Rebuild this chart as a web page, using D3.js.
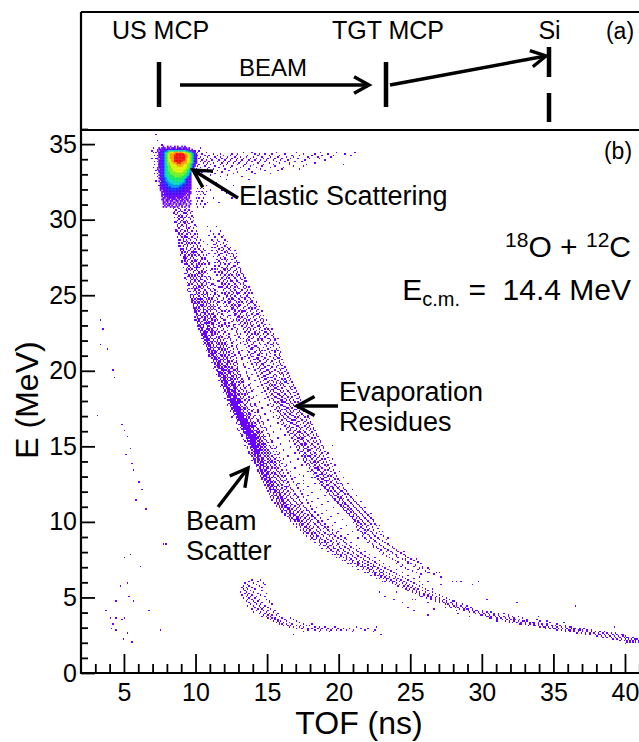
<!DOCTYPE html>
<html>
<head>
<meta charset="utf-8">
<script src="https://cdnjs.cloudflare.com/ajax/libs/d3/7.8.5/d3.min.js"></script>
<style>
    html, body { margin: 0; padding: 0; background: #fff; }
    svg { display: block; font-family: "Liberation Sans", Arial, sans-serif; }
    .axis path, .axis line { stroke: #000; }
    .axis text { font-family: "Liberation Sans", Arial, sans-serif; fill: #000; }
</style>
</head>
<body>
<svg id="chart" width="639" height="742"></svg>
<script>
// tick values
const xMajorTicks = [5, 10, 15, 20, 25, 30, 35, 40];
const yMajorTicks = [0, 5, 10, 15, 20, 25, 30, 35];
const xMinorTicks = [3, 4, 6, 7, 8, 9, 11, 12, 13, 14, 16, 17, 18, 19, 21, 22, 23, 24, 26, 27, 28, 29, 31, 32, 33, 34, 36, 37, 38, 39, 41];
const yMinorTicks = [1, 2, 3, 4, 6, 7, 8, 9, 11, 12, 13, 14, 16, 17, 18, 19, 21, 22, 23, 24, 26, 27, 28, 29, 31, 32, 33, 34, 36];

// elastic peak, one string per E bin (E x 10), one character per TOF bin from 7.2 ns, 0.1 ns wide
const elasticE = [348, 347, 346, 345, 344, 343, 342, 341, 340, 339, 338, 337, 336, 335, 334, 333, 332, 331, 330, 329, 328, 327, 326, 325, 324, 323, 322, 321, 320, 319, 318, 317, 316, 315, 314, 313, 312, 311, 310, 309, 308];
const elasticCounts = [
    "00000100101001010010100000000",
    "00101110110111011101110100000",
    "00111122222222222222111101000",
    "01012233455555555555544321100",
    "00112345678889999998877654210",
    "00112346789999aaaaaa998776421",
    "0011234678999aaaaaaaa99876421",
    "0011234678999aaaaaaaa99876411",
    "0101234678999aaaaaaaa98876421",
    "0011234678899aaaaaaaa98876421",
    "0011234578899aaaaaa9998876421",
    "001123457788999aaa99998776421",
    "0011234577888899999988776421",
    "0011234567788889999888776421",
    "001123456778888888888877642",
    "010123456777888888888776421",
    "00112345677788888888776541",
    "0011234566777788888777654",
    "0001234566777777777776543",
    "0011234566667777777766542",
    "0001234556666777776665431",
    "0011233455666666666654321",
    "0001233455566666665543211",
    "0010233445555566655543211",
    "0001123344555555555443211",
    "0001123334445555544332111",
    "0001122334444444443322111",
    "0001112233344444333222111",
    "0001112223333333332222111",
    "0001012222333333222221110",
    "0000111222223222222211111",
    "0000101122222222222111011",
    "0000111212221222121110110",
    "0000101111212111111101010",
    "0000011011111101111011010",
    "0000110111011110101101100",
    "0000010110110011011010101",
    "0000011010101101010110010",
    "0000010101101010110101001",
    "0000001011010010101001010",
    "0000010100101101001010010"
];
const levelColors = ["#6a00ff", "#4a08ff", "#1030ff", "#0090f0", "#00d8c0", "#10e860", "#70f020", "#e0f000", "#ff9a00", "#f01010"];

// scatter rows: first number is E x 10, the others are TOF x 10 of the filled bins
const tailAboveElastic = [
[356,72],[352,73],[349,76],[347,70,103],[346,73,75],[345,69,99,102],[344,70,72,74,101,107,133,139,156,170,187,198,211],[343,104,112,117,125,129,141,144,148,153,162,175,183,192,204],[342,71,73,101,106,109,115,119,124,128,136,143,151,158,167,172,181,188,196,208],
[341,100,103,108,113,117,122,127,131,135,140,146,152,157,163,168,178,185,194],[340,69,72,99,102,105,110,114,118,121,125,129,133,138,142,147,150,155,160,166,171,179,186],
[339,100,104,107,111,116,120,124,128,132,137,141,145,149,154,159,164,176,190],[338,71,73,99,103,106,109,115,119,123,127,131,136,139,144,148,156,162,169,174],
[337,100,105,108,112,118,122,126,130,135,143,151,158,165,183],[336,71,74,102,107,110,117,121,129,134,140,147,154,165,177,203],[335,101,106,113,119,125,133,138,146,155,168,175],
[334,70,73,103,109,116,124,131,142,152,161],[333,100,108,112,120,128,137,145,160,172],[332,72,74,102,107,115,123,135,148,157],[331,104,111,118,129,139],[330,71,73,103,113,126,141,152],[329,100,110,122],[328,73,75,105,117,132],[326,109,121,137],[325,72,76],[324,102,114],[322,74,76,107,126],[320,101,103,105],[319,75,77,110,118],[318,100,102,104,107],[317,105,121],[316,101,103,106],[314,100,102,105,112,125],[312,101,104],[311,108,116],[310,100,103,106],[308,101,105]
];
const beamScatter = [
[307,84,88,93],[306,86,89,92,95],[305,85,88,90,94,97],[304,87,91,93,96],[303,86,89,94],[302,88,90,93,97],[301,85,87,92,95],[300,88,91,96],[299,87,90,93,98],[298,86,89,94,97],[297,88,92,95],[296,87,90,93,99],[295,89,91,96],[294,88,93,95,98],[293,86,90,94],[292,89,92,97,100],[291,88,91,95],[290,90,93,96,99],[289,89,92,98],[288,90,94,97,101],[287,91,95,99],[286,89,93,96,100],[285,92,94,98],[284,90,95,97,102],[283,92,96,100],[282,91,94,98,103],[281,93,97,101],
[280,90,93,96,99,102],[279,91,95,98,103],[278,92,94,97,100,104],[277,90,93,96,101],[276,92,95,99,102,105],[275,91,94,97,100,103],[274,93,96,98,104],[273,92,95,99,101,106],[272,94,97,100,103],[271,93,96,98,102,105],
[270,94,97,100,104,106],[269,95,98,101,103],[268,94,96,99,102,107],[267,95,97,100,105],[266,96,99,101,104,107],[265,94,98,102,106],[264,96,100,103,105,108],[263,95,97,101,104],[262,97,99,102,106,109],[261,96,98,100,103,107],
[260,97,101,104,108,110],[259,96,99,102,106],[258,98,100,103,105,109],[257,97,101,104,107,111],[256,99,102,106,110],[255,98,100,103,105,108],[254,97,101,104,109,112],[253,99,102,106,110],[252,98,100,103,107,111],[251,100,102,105,108,113],
[250,99,101,104,106,110,113],[249,98,102,105,108,112],[248,100,103,106,109,114],[247,99,101,104,107,111,115],[246,100,103,105,110,113],[245,101,104,106,108,112,116],[244,99,102,105,109,114],[243,101,103,107,110,115],[242,100,104,106,111,113,117],[241,102,105,108,112,116],
[240,101,103,106,109,113,117],[239,102,105,107,110,114,118],[238,100,104,108,112,116],[237,103,106,109,111,115,118],[236,102,105,107,110,113,119],[235,101,104,108,112,117],[234,103,106,109,114,118],[233,102,105,108,111,115,120],[232,104,107,110,113,117],[231,103,106,109,112,116,120],
[230,104,107,111,114,118,120],[229,103,105,108,112,116,121],[228,105,108,110,113,117,122],[227,104,107,111,115,119],[226,106,109,112,114,118,122],[225,105,108,110,113,116,120],[224,104,107,111,115,119,123],[223,106,109,112,117,121],[222,105,108,110,114,118,123],[221,107,109,113,116,120,124],
[220,106,109,112,115,119,124],[219,107,110,113,117,121],[218,108,111,114,116,120,125],[217,107,110,112,115,118,122],[216,109,112,114,117,121,125],[215,108,111,115,119,123],[214,110,112,116,118,122,126],[213,109,113,115,120,124],[212,111,114,117,119,123,126],[211,110,113,116,121,125],
[210,111,114,117,120,123,127],[209,112,115,118,122,125],[208,113,116,119,121,124,128],[207,112,115,117,120,126],[206,114,116,119,122,125,128],[205,113,117,120,123,127],[204,115,118,121,124,126,129],[203,114,117,119,122,127],[202,115,118,120,123,125,129],[201,116,119,122,124,128],
[200,115,118,121,123,126,129],[199,117,119,122,125,128,130],[198,116,120,123,126,129],[197,118,121,124,127,130],[196,117,119,122,125,128,131],[195,118,121,123,126,130],[194,119,122,124,127,129,132],[193,118,120,123,126,131],[192,120,122,125,128,130,132],[191,119,121,124,127,131],
[190,120,123,125,127,130,133],[189,119,122,124,126,129,133],[188,121,123,126,128,131,134],[187,120,124,127,129,132],[186,122,125,127,130,133,135],[185,121,124,126,128,131,135],[184,123,125,127,129,132,136],[183,122,124,126,128,130,134],[182,123,126,128,131,133,137],[181,124,126,127,129,132,135],
[180,123,125,127,129,131,134,137],[179,124,126,128,130,132,136],[178,125,127,128,130,133,135,138],[177,124,126,129,131,134,138],[176,126,128,130,132,135,139],[175,125,127,129,131,133,136],[174,127,129,130,132,134,137,140],[173,126,128,131,133,136,139],[172,128,130,132,134,137,141],[171,127,129,131,133,135,138],
[170,129,131,132,134,136,138,141],[169,128,130,133,135,137,140],[168,130,132,134,135,137,139,142],[167,129,131,133,136,138,143],[166,131,133,135,136,138,140,143],[165,132,134,136,137,139,141,144],[164,131,133,135,137,139,142],[163,133,135,136,138,140,141,145],[162,134,136,137,139,140,142,146],[161,133,135,137,138,140,143],
[160,135,136,138,139,141,142,144,147],[159,134,136,137,139,140,142,143,146],[158,135,137,138,140,141,143,145],[157,136,138,139,141,142,144,147],[156,137,139,140,141,143,144,146,148],[155,136,138,140,142,143,145,147],[154,138,140,141,142,144,145,148],[153,137,139,141,143,144,146,149],[152,139,141,142,144,145,147,150],[151,138,140,143,144,146,148],
[150,140,141,143,144,145,147,149,151],[149,139,142,143,145,146,148,152],[148,140,142,144,145,147,149,153],[147,141,143,145,146,148,150],[146,140,142,144,147,149,151,154],[145,142,144,146,148,150,152],[144,141,143,147,149,151,155],[143,143,145,148,150,153],[142,142,146,149,151,154,156],[141,144,147,150,152,155],
[140,143,146,148,151,153,157],[139,145,147,150,152,155,158],[138,144,148,151,154,156],[137,146,149,152,155,158],[136,145,148,150,153,156,159],[135,147,150,153,155,157],[134,146,149,152,156,160],[133,148,151,154,157,159],[132,147,150,153,155,158,161],[131,149,152,156,159],
[130,148,151,154,157,160,162],[129,150,153,155,158,161],[128,149,152,156,159,163],[127,151,154,157,160,162],[126,150,153,155,158,161,164],[125,152,156,159,163],[124,151,154,157,160,165],[123,153,155,158,162,164],[122,152,156,160,163,166],[121,154,157,159,162,167],
[120,155,158,161,164,168],[119,154,157,160,163,166],[118,156,159,162,165,169],[117,155,158,161,164,168,170],[116,157,160,163,166,171],[115,156,159,162,167,170],[114,158,161,164,168,172],[113,160,163,165,169,173],[112,159,162,166,170,174],[111,161,164,167,171],
[110,160,163,166,169,172,175],[109,162,165,168,171,176],[108,164,167,170,173,177],[107,163,166,169,172,175,178],[106,165,168,171,174,179],[105,167,170,173,176,180],[104,166,169,172,175,178,181],[103,168,171,174,177,182],[102,170,173,176,179,183],[101,169,172,175,178,181,184],
[100,171,174,177,180,185],[99,173,176,179,182,186],[98,172,175,178,183,187],[97,174,177,180,184,188],[96,176,179,182,185,190],[95,175,178,181,186,191],[94,177,180,184,187,192],[93,179,182,185,189,193],[92,178,183,186,190,195],[91,181,184,188,192,196],
[90,182,185,189,193,197],[89,184,187,191,195,199],[88,183,188,192,196,201],[87,186,190,194,198,203],[86,188,192,196,200,204],[85,187,191,195,199,205],[84,190,194,198,202,207],[83,192,196,200,204,208],[82,191,197,201,206,210],[81,194,199,203,207,212],
[80,196,200,204,209,213],[79,198,202,206,210,215],[78,199,204,208,212,216],[77,201,205,209,213,218],[76,203,207,211,215,220],[75,205,208,212,217,221],[74,207,210,214,218,223],[73,209,213,216,220,225],[72,211,214,218,222,226],[71,213,216,220,224,228],
[70,215,218,222,225,230],[69,217,220,223,227,232],[68,219,222,226,229,234],[67,221,224,228,231,236],[66,223,226,230,233,238],[65,225,228,231,235,240],[64,227,230,233,237,242],[63,229,232,235,239,244],[62,231,234,238,241,246],[61,233,236,240,243,248],
[60,235,238,242,245,250],[59,237,240,244,247,252],[58,239,242,246,249,254],[57,241,245,248,251,256],[56,244,247,250,253,258],[55,246,249,252,255,260],[54,248,251,254,258,262],[53,251,254,256,260,265],[52,253,256,259,263,267],[51,256,259,262,265,270],
[50,258,262,264,268,272],[49,261,264,267,270,275],[48,264,267,270,273,277],[47,267,270,272,275,280],[46,270,273,275,278,282],[45,274,276,279,282,286],[44,277,280,282,285,289],[43,281,283,286,288,292],[42,284,287,290,293],[41,287,290,293,296,300],
[40,291,294,297,300,303],[39,295,298,301,304,308],[38,299,302,305,308,311],[37,303,306,309,312,315,318],[36,306,310,313,316,319,322],[35,310,314,317,320,323,326],[34,316,319,322,325,328,331],[33,321,324,327,330,333,336,339],[32,327,330,333,336,339,342,345],[31,332,336,339,342,345,348,351,354],
[30,340,343,346,349,352,355,358,361],[29,344,347,350,353,356,359,362,365,368],[28,352,355,358,361,364,367,370,373],[27,358,361,364,367,370,373,376,379,382],[26,366,369,372,375,378,381,384,387,390],[25,372,375,379,382,385,388,391,394,397],[24,380,383,386,389,392,395,398,400],[23,384,387,390,393,396,399,402,405],[22,391,394,397,400,402,404,406,408],[21,396,399,401,403,405,407,409,411],[20,401,403,405,407,409,411]
];
// second pass over the beam band, the uneven bins and the edges of the band
const beamScatterEdges = [
[304,84,85,92],[301,89,90,98],[298,85,91,92],[295,87,93,100],[292,86,87,94],[290,88,94,101],[288,87,92,93],[286,88,91,103],[284,88,93,99],[282,88,89,101],[280,89,91,105],[278,90,98,99],[276,89,97,107],[274,91,92,106],[272,90,92,99,108],[270,92,93,102,109],[268,91,100,101],[266,93,94,110],[264,92,93,102],[262,94,95,104],[260,93,99,103,112],[258,94,96,107],[256,94,95,104,113],[254,95,99,100],[252,95,96,105,115],[250,96,97,108,115],
[248,96,98,111],[247,97,102,103],[246,97,98,108,118],[245,97,102,110],[244,98,100,107,119],[243,98,104,105],[242,98,102,109,120],[241,99,100,110],[240,99,105,111,121],[239,99,100,108],[238,99,105,106,122],[237,100,101,112],[236,100,103,108,123],[235,99,106,110],[234,101,102,111,124],[233,100,106,113],[232,101,102,109,125],[231,101,107,111],[230,102,105,112,126],[229,101,102,109,123],[228,103,104,112,127],[227,102,108,109],[226,103,104,111,128],[225,103,107,111],
[224,105,106,113,129],[223,104,107,111],[222,106,107,116,130],[221,105,108,111],[220,107,108,117,128],[219,105,108,115],[218,106,109,118,131],[217,108,109,116],[216,107,110,119,128],[215,110,113,117],[214,108,109,120,129],[213,111,112,118],[212,109,113,121,130],[211,111,112,119],[210,109,112,118,131],[209,110,113,120],[208,111,114,122,132],[207,113,114,118],[206,112,117,123],[205,115,116,122],[204,113,116,122,133],[203,115,116,120],[202,113,116,121,134],[201,117,118,125],
[200,114,119,120,127],[199,115,116,123],[198,117,118,124,135],[197,116,119,122],[196,116,120,126,136],[195,119,120,124],[194,117,120,125,137],[193,119,121,124],[192,118,121,126,133],[191,120,122,125],[190,118,121,126,137],[189,120,121,127],[188,119,122,127,138],[187,122,123,125],[186,120,123,126,139],[185,122,123,127],[184,121,124,130,134],[183,123,125,127],[182,122,124,127,140],[181,125,128,130],[180,122,124,126,130],[179,125,127,129],[178,123,126,129,141],[177,125,127,128],[176,124,127,129,142],[175,126,128,130],[174,125,128,131,143],[173,127,129,130],[172,126,129,131,143],[171,128,130,132],[170,126,130,133,144],
[169,129,131,132],[168,128,131,133,145],[167,130,132,134],[166,129,132,134,146],[165,131,133,135],[164,130,132,134,147],[163,132,134,137],[162,131,133,135,148],[161,132,134,136],[160,130,133,137,149],[159,133,135,138],[158,131,134,136,150],[157,135,137,140],[156,132,135,138,151],[155,135,137,139],[154,133,136,139,152],[153,136,138,140],[152,135,138,140,153],[151,137,139,141],[150,134,139,142,154],[149,138,140,141],[148,136,138,141,155],[147,139,142,144],[146,137,141,143,156],[145,139,141,143],[144,138,140,145,157],[143,139,141,144],[142,140,143,147,158],[141,141,143,146],[140,139,141,144,159],
[139,141,143,146],[138,141,145,147,160],[137,143,145,147],[136,142,144,147,162],[135,144,145,149],[134,143,145,148,163],[133,145,146,150],[132,144,146,149,164],[131,146,148,150],[130,145,147,149,166],[129,147,149,151],[128,146,148,151,167],[127,148,150,152],[126,147,149,152,168],[125,149,151,154],[124,148,150,153,170],[123,150,152,156],[122,149,151,154,171],[121,151,153,155],[120,150,152,156,173],[119,152,155,158],[118,151,154,158,174],[117,153,156,159],[116,152,154,159,175],[115,154,157,160],[114,153,156,160,177],[113,156,158,161],[112,155,157,161,178],[111,157,160,163],[110,156,158,162,180],
[109,158,160,164],[108,159,161,165,181],[107,160,162,165],[106,160,163,166,183],[105,162,164,168],[104,162,165,168,185],[103,164,166,170],[102,165,167,171,187],[101,166,168,171],[100,166,169,172,188],[98,168,170,174,190],[96,170,173,177,192],[94,173,175,179,195],[92,175,177,181,198],[90,177,180,184,201],[88,180,182,186,205],[86,183,186,190,208],[84,186,189,193,212],[82,188,193,196,214],[80,192,195,198,218],[78,195,197,201,221],[76,198,200,205,225],[74,202,204,209,228],[72,206,208,213,231],[70,209,212,216,235],[68,213,216,221,240],[66,218,220,225,244],[64,222,225,229,248],[62,226,228,233,252],[60,230,232,237,256]
];
const evaporationResidues = [
[295,108,114],[292,110,117],[290,112,116],[288,113,118],[286,111,115,120],[284,114,119],[283,112,117,121],[282,115,120],[281,113,118,122],[280,116,119,123],[279,114,118,124],[278,115,120,122],[277,113,117,123,125],[276,116,121,126],[275,115,119,124],[274,117,120,127],[273,114,118,122,125],[272,116,121,128],[271,115,119,124,127],
[270,117,120,123,129],[269,116,122,126],[268,118,121,125,130],[267,115,119,124,128],[266,117,120,123,127,131],[265,116,122,126,129],[264,118,121,124,128,132],[263,117,120,125,130],[262,119,122,126,129,133],[261,118,123,127,131],
[260,117,120,124,128,132],[259,119,122,125,129,134],[258,118,121,126,130,133],[257,120,123,127,131],[256,119,122,125,128,134],[255,118,121,124,129,133,135],[254,120,123,126,130,134],[253,119,124,127,132,136],[252,121,125,128,131,135],[251,120,123,126,130,134,137],
[250,120,122,125,129,133,136],[249,122,124,127,131,135],[248,121,125,128,132,137],[247,123,126,130,134,138],[246,122,124,127,131,136,139],[245,124,128,132,135,139],[244,123,126,129,133,137,140],[243,125,127,131,136,141],[242,124,128,130,134,138,142],[241,126,129,133,137,141],
[240,125,127,131,135,139,143],[239,127,130,134,138,142],[238,126,129,132,136,140,144],[237,128,131,135,139,143],[236,127,130,133,137,141,145],[235,129,132,136,140,144],[234,128,131,134,138,142,146],[233,130,133,137,141,145],[232,129,132,135,139,143,147],[231,131,134,138,142,146],
[230,130,133,136,140,144,148],[229,132,135,139,143,147],[228,134,137,141,145,149],[227,133,136,140,144,148,150],[226,135,138,142,146,151],[225,134,137,141,144,149,152],[224,136,139,143,147,150],[223,135,138,142,145,149,153],[222,137,140,144,148,154],[221,136,139,143,146,150,155],
[210,136,138,143,144,149,155,158],[209,139,140,146,151,152,159],[208,137,142,143,148,154,157],[207,140,141,147,150,155,160],[206,138,144,145,149,153,158],[205,141,143,148,152,156,161],[204,139,142,146,147,154,159],[203,142,145,150,151,157,160],[202,140,144,148,153,156,162],[201,143,146,147,152,158,161],
[200,141,145,149,150,155,159,163],[199,144,147,148,153,157,162],[198,142,146,151,152,158,160,164],[197,145,149,150,155,159,163],[196,143,147,148,154,156,161,165],[195,146,150,152,153,158,164],[194,144,148,149,155,160,162,166],[193,147,151,153,157,161,165],[192,145,150,154,156,159,163,167],[191,148,149,152,158,160,164],
[190,146,151,153,155,159,161,168],[189,149,152,154,157,162,165],[188,147,150,155,156,160,166,169],[187,150,153,157,158,163,167],[186,148,152,154,159,161,164,170],[185,151,155,156,160,165,168],[184,149,153,157,158,162,166,171],[183,152,154,159,161,163,169],[182,150,155,156,160,164,167,172],[181,153,157,158,162,166,170],
[180,151,154,159,160,163,165,168,173],[179,155,157,161,162,166,169,171],[178,152,156,158,163,164,167,172,174],[177,154,159,160,165,168,170],[176,153,157,161,162,166,169,173,175],[175,156,158,163,164,167,171,174],[174,155,160,162,165,169,170,176],[173,157,159,163,166,168,172,175],[172,154,158,161,164,167,171,173,177],[171,159,162,165,166,170,174],
[170,156,160,163,167,168,172,175,178],[169,158,161,164,169,171,176],[168,157,162,165,166,170,173,179],[167,160,163,168,169,174,177],[166,159,164,165,171,172,176,180],[165,161,166,167,170,175,178],[164,160,163,168,169,173,177,181],[163,162,165,170,171,176,179],[162,164,167,168,172,174,178,182],[161,163,166,170,173,177,180],
[160,165,166,169,172,175,179,183],[159,164,168,171,173,176,181],[158,166,167,170,174,177,180,184],[157,165,169,172,175,178,182],[156,168,170,173,176,179,185],[155,167,171,172,175,181,183],[154,169,173,174,177,180,186],[153,168,171,175,178,182,184],[152,170,172,176,179,183,187],[151,169,173,174,177,181,185],
[150,171,174,176,180,182,188],[149,170,172,175,178,183,186],[148,172,176,177,181,185,189],[147,171,175,179,180,184,187],[146,173,174,178,182,186,190],[145,172,176,180,183,188],[144,175,177,181,184,187,191],[143,174,178,179,183,186,189],[142,176,180,182,185,192],[141,175,177,181,184,188,190],
[140,177,179,183,186,187,193],[139,176,180,182,185,189,191],[138,178,181,184,188,194],[137,177,179,183,186,190,192],[136,180,182,185,187,191,195],[135,179,183,184,188,193],[134,181,185,186,190,192,196],[133,180,182,187,189,194],[132,183,184,188,191,197],[131,182,186,187,190,193,195],
[130,184,185,189,192,194,198],[129,183,187,190,191,196],[128,185,188,189,193,197,199],[127,186,190,192,195,200],[126,187,188,191,194,198],[125,186,189,193,196,199,201],[124,188,191,192,197,202],[123,189,190,194,198,200],[122,190,193,195,199,203],[121,191,192,196,200,204],
[120,192,194,197,201,202,205],[119,191,195,198,200,203],[118,193,196,199,204,206],[117,194,197,198,202,207],[116,195,199,201,205,208],[115,196,197,200,203,209],[114,197,200,202,206,210],[113,198,199,203,207,211],[112,199,202,204,208,212],[111,200,201,205,209,213],
[110,201,203,206,210,214],[109,202,204,207,211,215],[108,203,206,208,212,216],[107,204,205,209,213,217],[106,205,208,210,214,218],[105,206,207,211,215,219],[104,207,210,212,216,220],[103,208,209,213,217,221],[102,209,212,214,218,222],[101,210,211,215,219,223],
[100,211,213,216,220,224],[99,210,214,217,221],[98,212,215,218,222,225],[97,213,216,220,226],[96,212,215,219,223],[95,214,217,221,227],[94,213,218,220,224],[93,215,219,222,228],[92,216,218,223,226],[91,217,220,224,229],[90,216,221,225,231],[89,218,222,227],[88,219,224,228,233],[87,221,225,230],[86,220,226,232],[85,223,228,234],[84,224,229,235],[83,226,231,237],[82,227,232,238],[81,229,234,240],[80,228,233,236,241],[79,231,237,243],[78,230,235,239,245],[77,233,240,246],[76,235,241,248],[75,237,244,250],[74,239,246,252],[73,241,248,255],[72,240,250,257],[71,244,253],[70,243,252,258],[69,246,256],[68,248,255,263],[67,251,260],[66,254,262,268],[65,257,266],[63,256,271],[60,262,282,297]
];
// uneven bins in the upper part of the residue band
const residueEdges = [
[289,109,119],[285,112,122],[279,111,127],[275,112,128],[271,113,129],[267,113,122,131],[263,115,128,133],[259,116,124,135],[255,116,127,137],[251,118,129,139],[248,119,134,140],[245,120,130,142],[242,122,126,144],[239,123,133,146],[236,124,135,147],[233,126,135,149],[230,127,138,151],[227,129,138,153],[224,131,141,154],[221,133,145,157],
[220,135,137,143,146,152,155],[219,133,138,141,147,151],[218,136,140,144,150,154,156],[217,134,139,145,148,153,157],[216,137,141,142,149,154],[215,135,140,143,147,152,158],[214,138,139,144,150,156],[213,136,142,146,148,153,157],[212,137,141,145,151,155,159],[211,139,140,144,149,152,158]
];
// loose bins across both bands and in the gap between them
const looseBins = [
[285,91,105,116],[283,94,108,113],[281,97,111,118,124],[279,89,106,121],[277,98,109,118,128],[275,92,112,126],[273,104,115,120],[271,90,109,117,130],[269,100,113,127],[267,93,111,120],[265,104,113,118,131],[263,99,114,123],[261,92,110,121,134],[259,106,115,128],[257,95,112,118,133],[255,102,117,122],[253,94,113,124,138],[251,107,118,128],[249,96,116,121,136],[247,109,119,125],[245,99,115,123,138],[243,112,121,130],[241,98,116,125,139],[239,110,120,132],[237,101,118,127,142],[235,113,122,130],[233,99,119,128,147],[231,108,123,136],[229,102,118,126,144],[227,115,125,140],[225,106,120,128,148],[223,117,127,135],[221,104,122,131,151],
[219,111,126,135],[217,105,120,129,152],[215,116,128,139],[213,107,124,132,155],[211,119,130,146],[209,109,126,134,156],[207,122,132,143],[205,111,128,136,158],[203,120,133,147],[201,112,129,137,160],[199,124,135,151],[197,114,131,139,161],[195,128,137,153],[193,116,133,141,163],[191,125,138,156],[189,117,135,143,167],[187,129,140,154],[185,119,137,146,169],[183,127,142,158],[181,120,139,148,171],[179,131,144,160],[177,122,141,150,173],[175,134,146,163],[173,124,143,152,176],[171,137,148,165],[169,125,145,154,178],[167,135,150,167],[165,128,147,157,180],[163,139,152,170],[161,129,149,159,182],[159,144,154,172],[157,132,151,162,184],[155,141,157,174],[153,134,153,165,187],[151,147,159,176],[149,136,156,166,189],[147,150,161,178],[145,137,158,169,192],[143,148,164,180],[141,140,161,171,195],
[139,153,166,183],[137,142,163,174,197],[135,157,169,185],[133,143,166,178,200],[131,155,172,188],[129,146,169,181,203],[127,160,175,191],[125,149,172,183,206],[123,163,178,195],[121,152,175,187,209],[119,166,181,198],[117,155,178,190,212],[115,170,185,201],[113,158,181,192,215],[111,173,188,204],[109,163,184,196,218],[107,177,191,207],[105,166,188,199,222],[103,181,194,210],[101,170,192,202,224],[99,185,197,213],[97,172,195,205,228],[95,189,201,216],[93,176,199,209,230],[91,194,206,220],[89,181,204,213,234]
];
const lowPocket = [
[61,139,145],[60,137,143],[59,134,140,147],[58,136,142,148],[57,133,137,144],[56,132,135,139,146],[55,133,136,141],[54,134,138,146],[53,131,135,140],[52,134,137,143,149],[51,132,136,139,145],[50,135,138,142,148],[49,133,137,141],[48,136,139,144,149],[47,135,140,143,151],[46,137,141,146,151],[45,138,142,145,153],[44,136,140,144,148],[43,141,145,147,150],[42,139,143,146,152],[41,142,147,150,155],[40,140,145,149,154],[39,144,148,151,157],[38,147,150,153,156],[37,146,149,152,158],[36,150,153,155,160,166],[35,152,155,157,162,168],[34,154,157,159,163,170],[33,156,158,161,165,172],[32,158,160,163,167,175,181],[31,161,164,166,170,173,177,179],[30,165,168,172,175,183,186,190,197,212,226],[29,170,174,178,181,185,188,192,195,199,203,207,215,220],[28,178,183,187,191,194,198,201,205,210,218,225],[27,175,186,193,209,224],[25,168,229]
];
const strayLeft = [
[233,33],[227,35],[217,33],[214,38],[200,42],[195,43],[170,31],[164,48],[160,50],[156,52],[148,54],[144,51],[138,55],[134,56],[126,60],[121,62],[114,58],[108,65],[85,79],[85,77],[78,54],[76,50],[70,61],[59,52],[57,47],[50,53],[47,44,56],[41,37,67],[36,40,44,50],[35,48],[32,42],[29,41],[28,44,75],[26,52],[22,49],[20,55]
];
const sparseTail = [
[83,224,231],[80,236,245],[78,240],[75,246,254],[72,248],[69,258,262],[66,263,270],[63,271,271],[60,279,285],[58,258,271,293],[55,247,265],[53,228,240],[50,232,257],[48,238,251,253,303],[46,244,262,324],[44,365],[43,248,274,278],[42,266,289],[41,252,282,295],[39,283,298,311,315],[38,262,300,308,318],[37,291,304,321,325],[36,305,313,328],[35,322,331,338],[34,310,329,340,345],[33,319,335,347],[32,326,341,352],[31,337,349,358],[30,344,355,362,392],[29,351,364,371],[28,360,368,376],[27,376,385],[26,393],[25,381,398],[19,400]
];
// a few bins with more than one count
const heavyCells = [
[213,144],[208,158],[192,162],[148,172],[143,176],[139,158],[140,175],[130,175],[125,175],[125,171],[145,152],[138,149],[150,143],[124,157],[150,195],[122,196],[70,224],[66,229],[47,279],[40,306],[37,339],[33,357],[29,368],[26,393],[23,401],[22,407]
];

// chart scales
const x = d3.scaleLinear().domain([2, 41]).range([81, 639.3]);
const y = d3.scaleLinear().domain([0, 36]).range([673, 129]);
const binW = x(0.1) - x(0);
const binH = y(0) - y(0.1);
const levelColor = d3.scaleQuantize().domain([0.5, 10.5]).range(levelColors);

const svg = d3.select("#chart");
const plot = svg.append("g");

function drawRows(rows, color) {
    const cells = rows.flatMap(r => r.slice(1).map(t => [t, r[0]]));
    plot.append("g").selectAll("rect")
        .data(cells)
        .join("rect")
        .attr("x", d => x(d[0] / 10))
        .attr("y", d => y(d[1] / 10) - binH)
        .attr("width", binW)
        .attr("height", binH)
        .attr("fill", color)
        .attr("shape-rendering", "crispEdges");
}
[tailAboveElastic, beamScatter, beamScatterEdges, evaporationResidues, residueEdges, looseBins, lowPocket, strayLeft, sparseTail].forEach(r => drawRows(r, levelColors[0]));
drawRows(heavyCells, levelColors[2]);

// elastic peak
const elasticCells = elasticCounts.flatMap((row, i) =>
    row.split("").map((c, j) => ({ e: elasticE[i], t: 72 + j, n: parseInt(c, 16) })).filter(d => d.n > 0));
plot.append("g").selectAll("rect")
    .data(elasticCells)
    .join("rect")
    .attr("x", d => x(d.t / 10))
    .attr("y", d => y(d.e / 10) - binH)
    .attr("width", binW + 0.3)
    .attr("height", binH + 0.3)
    .attr("fill", d => levelColor(d.n));

// axes, ROOT style ticks inside the frame
const minorX = d3.axisBottom(x).tickValues(xMinorTicks).tickSize(-9).tickFormat("");
const majorX = d3.axisBottom(x).tickValues(xMajorTicks).tickSize(-19).tickPadding(10).tickFormat(d3.format("d"));
const minorY = d3.axisLeft(y).tickValues(yMinorTicks).tickSize(-7).tickFormat("");
const majorY = d3.axisLeft(y).tickValues(yMajorTicks).tickSize(-14).tickPadding(4).tickFormat(d3.format("d"));

function addAxis(axis, dx, dy) {
    const g = svg.append("g").attr("class", "axis").attr("transform", `translate(${dx},${dy})`).call(axis);
    g.selectAll(".tick line").attr("stroke-width", 1.8);
    g.selectAll("path.domain").remove();
    g.selectAll("text").attr("font-size", 25);
}
addAxis(minorX, 0, 673);
addAxis(majorX, 0, 673);
addAxis(minorY, 81, 0);
addAxis(majorY, 81, 0);

// frame lines
const frame = svg.append("g").attr("stroke", "#000").attr("stroke-width", 2.2);
frame.append("line").attr("x1", 81).attr("x2", 639).attr("y1", 673).attr("y2", 673);
frame.append("line").attr("x1", 81).attr("x2", 81).attr("y1", 12).attr("y2", 674);
frame.append("line").attr("x1", 81).attr("x2", 639).attr("y1", 12).attr("y2", 12);
frame.append("line").attr("x1", 81).attr("x2", 639).attr("y1", 130).attr("y2", 130);

function label(str, px, py, size, anchor) {
    return svg.append("text")
        .attr("x", px).attr("y", py)
        .attr("font-size", size)
        .attr("text-anchor", anchor || "start")
        .attr("fill", "#000")
        .text(str);
}

function arrow(x1, y1, x2, y2, head) {
    const a = Math.atan2(y2 - y1, x2 - x1);
    const g = svg.append("g").attr("stroke", "#000").attr("stroke-width", 3.4).attr("fill", "none");
    g.append("line").attr("x1", x1).attr("y1", y1).attr("x2", x2).attr("y2", y2);
    const hx = d => x2 - head * Math.cos(a + d);
    const hy = d => y2 - head * Math.sin(a + d);
    g.append("path").attr("d", `M${hx(0.5)},${hy(0.5)}L${x2},${y2}L${hx(-0.5)},${hy(-0.5)}`);
}

// panel (a), detector layout
const bars = svg.append("g").attr("stroke", "#000").attr("stroke-width", 4.5);
bars.append("line").attr("x1", 159).attr("x2", 159).attr("y1", 62).attr("y2", 107);
bars.append("line").attr("x1", 386).attr("x2", 386).attr("y1", 62).attr("y2", 107);
bars.append("line").attr("x1", 549).attr("x2", 549).attr("y1", 47).attr("y2", 77);
bars.append("line").attr("x1", 549).attr("x2", 549).attr("y1", 93).attr("y2", 122);
arrow(180, 85, 369, 85, 17);
arrow(390, 85, 546, 56, 17);
label("US MCP", 160.5, 39, 25, "middle");
label("TGT MCP", 388, 39, 25, "middle");
label("Si", 549.5, 39, 25, "middle");
label("(a)", 620, 39, 23, "middle");
label("BEAM", 273, 76, 24, "middle");

// panel (b), annotations
label("(b)", 618, 159, 23, "middle");
label("Elastic Scattering", 239, 205, 27);
arrow(238, 198, 193, 170, 20);
arrow(338, 406, 297, 406, 20);
arrow(218, 507, 248, 468, 20);
label("Evaporation", 339, 401, 27);
label("Residues", 339, 431, 27);
label("Beam", 186, 530, 27);
label("Scatter", 186, 560, 27);

const reaction = label("", 631, 257, 30, "end");
reaction.append("tspan").attr("font-size", 21).attr("dy", -10).text("18");
reaction.append("tspan").attr("dy", 10).text("O + ");
reaction.append("tspan").attr("font-size", 21).attr("dy", -10).text("12");
reaction.append("tspan").attr("dy", 10).text("C");

const energy = label("", 631, 300, 30, "end");
energy.append("tspan").text("E");
energy.append("tspan").attr("font-size", 20).attr("dy", 6).text("c.m.");
energy.append("tspan").attr("dy", -6).text(" =\u00a0\u00a014.4 MeV");

// axis titles
label("TOF (ns)", 359, 734, 32, "middle");
svg.append("text")
    .attr("transform", "translate(38,400) rotate(-90)")
    .attr("font-size", 32)
    .attr("text-anchor", "middle")
    .attr("fill", "#000")
    .text("E (MeV)");
</script>
</body>
</html>
